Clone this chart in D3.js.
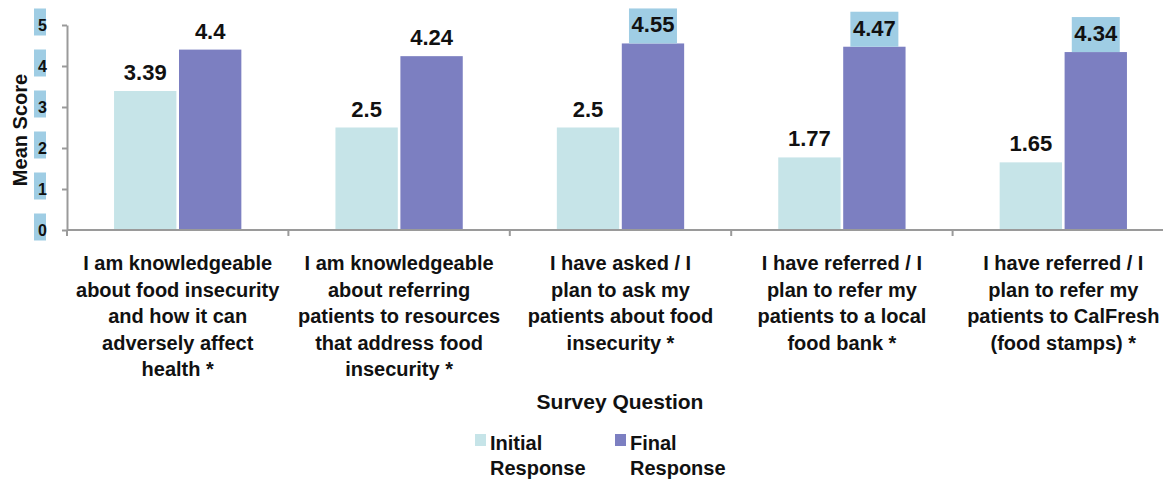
<!DOCTYPE html>
<html>
<head>
<meta charset="utf-8">
<script src="https://cdn.jsdelivr.net/npm/d3@7"></script>
<style>
    body { margin: 0; background: #fff; }
    svg text { font-family: "Liberation Sans", Arial, sans-serif; font-weight: bold; fill: #111; }
</style>
</head>
<body>
<svg id="chart" width="1163" height="482"></svg>
<script>
// survey questions, one entry per line of the axis label
const categories = ["q1", "q2", "q3", "q4", "q5"];
const categoryLines = [
    ["I am knowledgeable", "about food insecurity", "and how it can", "adversely affect", "health *"],
    ["I am knowledgeable", "about referring", "patients to resources", "that address food", "insecurity *"],
    ["I have asked / I", "plan to ask my", "patients about food", "insecurity *"],
    ["I have referred / I", "plan to refer my", "patients to a local", "food bank *"],
    ["I have referred / I", "plan to refer my", "patients to CalFresh", "(food stamps) *"]
];
const seriesNames = ["Initial", "Final"];
const legendLabels = [["Initial", "Response"], ["Final", "Response"]];
const initialValues = [3.39, 2.5, 2.5, 1.77, 1.65];
const finalValues = [4.4, 4.24, 4.55, 4.47, 4.34];
const yTicks = [0, 1, 2, 3, 4, 5];

var svg = d3.select("#chart");
var highlight = "#9fcde4";
var axisColor = "#9a9a9a";

var y = d3.scaleLinear().domain([0, 5]).range([230, 25]);

var x0 = d3.scaleBand()
    .domain(categories)
    .range([67, 1174])
    .paddingInner(0.425)
    .paddingOuter(0.2125);

var x1 = d3.scaleBand()
    .domain(seriesNames)
    .range([0, x0.bandwidth()])
    .paddingInner(0.04);

var color = d3.scaleOrdinal()
    .domain(seriesNames)
    .range(["#c6e4e8", "#7c7fc1"]);

// bars
var groups = svg.append("g").selectAll("g")
    .data(categories)
    .enter().append("g")
    .attr("transform", function(d) { return "translate(" + x0(d) + ",0)"; });

var bars = groups.selectAll("g")
    .data(function(d, i) {
        return [
            { cat: i, s: "Initial", v: initialValues[i] },
            { cat: i, s: "Final", v: finalValues[i] }
        ];
    })
    .enter().append("g");

bars.append("rect")
    .attr("x", function(d) { return x1(d.s); })
    .attr("y", function(d) { return y(d.v); })
    .attr("width", x1.bandwidth())
    .attr("height", function(d) { return y(0) - y(d.v); })
    .style("fill", function(d) { return color(d.s); });

// the last three final labels carry a blue highlight in the source
bars.filter(function(d) { return d.s === "Final" && d.cat >= 2; })
    .append("rect")
    .attr("x", function(d) { return x1(d.s) + x1.bandwidth() / 2 - 24; })
    .attr("y", function(d) { return y(d.v) - 35; })
    .attr("width", 48)
    .attr("height", 35)
    .style("fill", highlight);

bars.append("text")
    .attr("x", function(d) { return x1(d.s) + x1.bandwidth() / 2; })
    .attr("y", function(d) { return y(d.v) - 11; })
    .attr("text-anchor", "middle")
    .style("font-size", "22px")
    .text(function(d) { return String(d.v); });

// y axis
var yAxis = svg.append("g")
    .attr("transform", "translate(67,0)")
    .call(d3.axisLeft(y).tickValues(yTicks).tickSize(5).tickSizeOuter(0)
        .tickPadding(15).tickFormat(d3.format("d")));

yAxis.select(".domain").attr("stroke", axisColor).attr("stroke-width", 2);
yAxis.selectAll(".tick line").attr("stroke", axisColor).attr("stroke-width", 2);
yAxis.selectAll(".tick text")
    .style("font-size", "16px")
    .attr("fill", "#111");
yAxis.selectAll(".tick").insert("rect", "text")
    .attr("x", -33)
    .attr("y", -17)
    .attr("width", 12)
    .attr("height", 27)
    .style("fill", highlight);

// x axis with ticks between the question groups
var step = x0.step();
var xAxis = svg.append("g");
xAxis.append("line")
    .attr("x1", 67).attr("x2", 1174)
    .attr("y1", y(0)).attr("y2", y(0))
    .attr("stroke", axisColor).attr("stroke-width", 2);
xAxis.selectAll("line.tick")
    .data(categories)
    .enter().append("line")
    .attr("class", "tick")
    .attr("x1", function(d) { return x0(d) - step * x0.paddingOuter(); })
    .attr("x2", function(d) { return x0(d) - step * x0.paddingOuter(); })
    .attr("y1", y(0)).attr("y2", y(0) + 6)
    .attr("stroke", axisColor).attr("stroke-width", 2);

xAxis.selectAll("text.cat")
    .data(categories)
    .enter().append("text")
    .attr("class", "cat")
    .attr("text-anchor", "middle")
    .style("font-size", "20px")
    .each(function(d, i) {
        var t = d3.select(this);
        categoryLines[i].forEach(function(line, k) {
            t.append("tspan")
                .attr("x", x0(d) + x0.bandwidth() / 2)
                .attr("y", 270 + k * 26.5)
                .text(line);
        });
    });

// axis titles
svg.append("text")
    .attr("transform", "translate(27,130) rotate(-90)")
    .attr("text-anchor", "middle")
    .style("font-size", "20px")
    .text("Mean Score");

svg.append("text")
    .attr("x", 620)
    .attr("y", 409)
    .attr("text-anchor", "middle")
    .style("font-size", "21px")
    .text("Survey Question");

// legend
var legend = svg.append("g").selectAll("g")
    .data(seriesNames)
    .enter().append("g")
    .attr("transform", function(d, i) { return "translate(" + (475 + i * 140) + ",0)"; });

legend.append("rect")
    .attr("x", 0).attr("y", 434)
    .attr("width", 11).attr("height", 12)
    .style("fill", function(d) { return color(d); });

legend.append("text")
    .style("font-size", "20px")
    .each(function(d, i) {
        var t = d3.select(this);
        legendLabels[i].forEach(function(line, k) {
            t.append("tspan").attr("x", 15).attr("y", 450 + k * 25).text(line);
        });
    });
</script>
</body>
</html>
